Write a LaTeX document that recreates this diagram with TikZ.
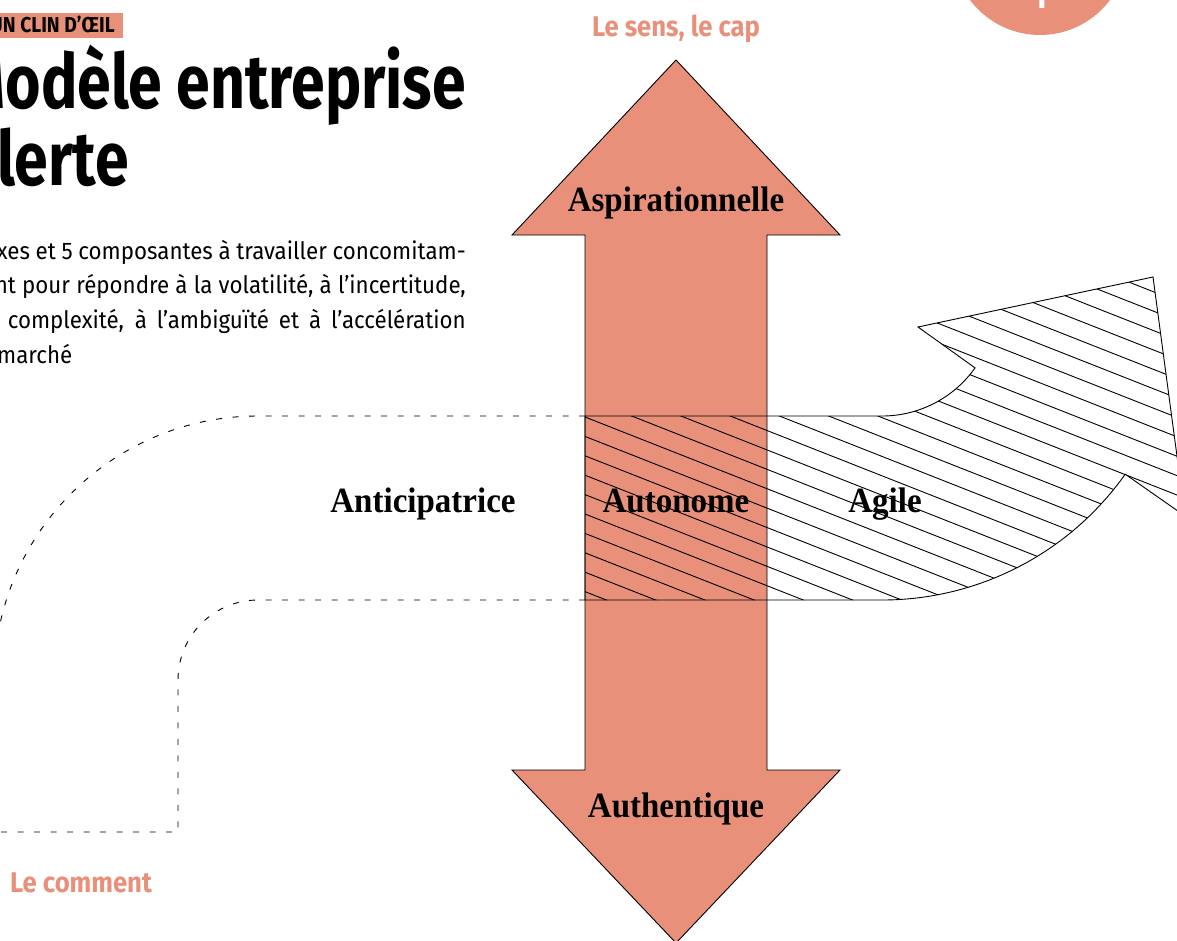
\documentclass[tikz,border=0pt]{standalone}
\usepackage{fontspec}
\usetikzlibrary{calc}
\setmainfont{Liberation Serif}
\newfontfamily\headfont[FakeStretch=0.80]{Fira Sans}
\newfontfamily\bodyfont[FakeStretch=0.93]{Fira Sans}
\newfontfamily\tagfont[FakeStretch=0.9]{Fira Sans}
\newfontfamily\lblfont[FakeStretch=0.93]{Liberation Serif}
\definecolor{salmon}{HTML}{E8907A}

% contour of the hatched arrow (Agile)
\newcommand{\agileshape}{(585,-416) -- (882,-416) arc[start angle=270, end angle=324.7, radius=114]
  -- (918,-327) -- (1153,-277) -- (1185,-516) -- (1125.2,-474.2)
  arc[start angle=324.7, end angle=270, radius=298] -- (585,-600) -- cycle}
% contour of the vertical double arrow
\newcommand{\vertshape}{(676,-60) -- (840,-235) -- (767,-235) -- (767,-770) -- (840,-770)
  -- (676,-943) -- (512,-770) -- (585,-770) -- (585,-235) -- (512,-235) -- cycle}

\begin{document}
\begin{tikzpicture}[x=1pt,y=1pt,
    outline/.style={black,line width=0.9pt},
    hatchline/.style={black,line width=0.9pt},
    dashline/.style={black,line width=0.9pt,dash pattern=on 6pt off 10.5pt},
    lbl/.style={inner sep=0pt,font=\lblfont\bfseries\fontsize{35.5}{35.5}\selectfont},
    tag/.style={inner sep=0pt,text=salmon,font=\tagfont\bfseries\fontsize{28.5}{28.5}\selectfont},
    body/.style={inner sep=0pt,anchor=base east,font=\bodyfont\fontsize{24}{24}\selectfont}]
\clip (0,0) rectangle (1177,-940);

% top right badge
\fill[salmon] (1040,52.5) circle (87.5);
\node (page) [anchor=base,inner sep=0pt,text=white,font=\tagfont\bfseries\fontsize{36}{36}\selectfont] at (1040,-8) {1};

% header
\fill[salmon] (0,-13) rectangle (123,-38);
\node (clin) [anchor=base east,inner sep=0pt,font=\tagfont\bfseries\fontsize{21.5}{21.5}\selectfont] at (115,-32) {UN CLIN D’ŒIL};
\node (title1) [anchor=base east,inner sep=0pt,font=\headfont\bfseries\fontsize{76}{76}\selectfont] at (466,-108) {Modèle entreprise};
\node (title2) [anchor=base west,inner sep=0pt,font=\headfont\bfseries\fontsize{76}{76}\selectfont] at (-3,-185) {lerte};

% justified lines of the lead text
\node (body1) [body] at (466,-259) {\makebox[469pt][s]{xes et 5 composantes à travailler concomitam-}};
\node (body2) [body] at (466,-293.5) {\makebox[471pt][s]{nt pour répondre à la volatilité, à l’incertitude,}};
\node (body3) [body] at (466,-328) {\makebox[458pt][s]{complexité, à l’ambiguïté et à l’accélération}};
\node (body4) [body,anchor=base west] at (-3,-363) {marché};

% vertical double arrow
\fill[salmon] \vertshape;

% hatched arrow
\begin{scope}
  \clip \agileshape;
  \foreach \k in {-22,...,11}
    \draw[hatchline] (560,{-(417+19.4*\k)+9.85}) -- (1200,{-(417+19.4*\k)-242.3});
\end{scope}
\draw[outline] \agileshape;
\draw[outline] \vertshape;

% dashed arrow (le comment)
\draw[dashline] (585,-416) -- (258,-416) arc[start angle=90, end angle=180, radius=264] -- ++(0,-300);
\draw[dashline] (585,-600) -- (258,-600) arc[start angle=90, end angle=180, radius=80] -- (178,-832) -- (-10,-832);

\node (sens) [tag,anchor=base] at (676,-36) {Le sens, le cap};
\node (comment) [tag,anchor=base west] at (10,-892) {Le comment};

\node (asp) [lbl,anchor=base] at (676,-211) {Aspirationnelle};
\node (auth) [lbl,anchor=base] at (676,-817) {Authentique};
\node (antic) [lbl,anchor=base] at (423,-512) {Anticipatrice};
\node (auton) [lbl,anchor=base] at (676,-512) {Autonome};
\node (agile) [lbl,anchor=base] at (885,-512) {Agile};
\end{tikzpicture}
\end{document}
